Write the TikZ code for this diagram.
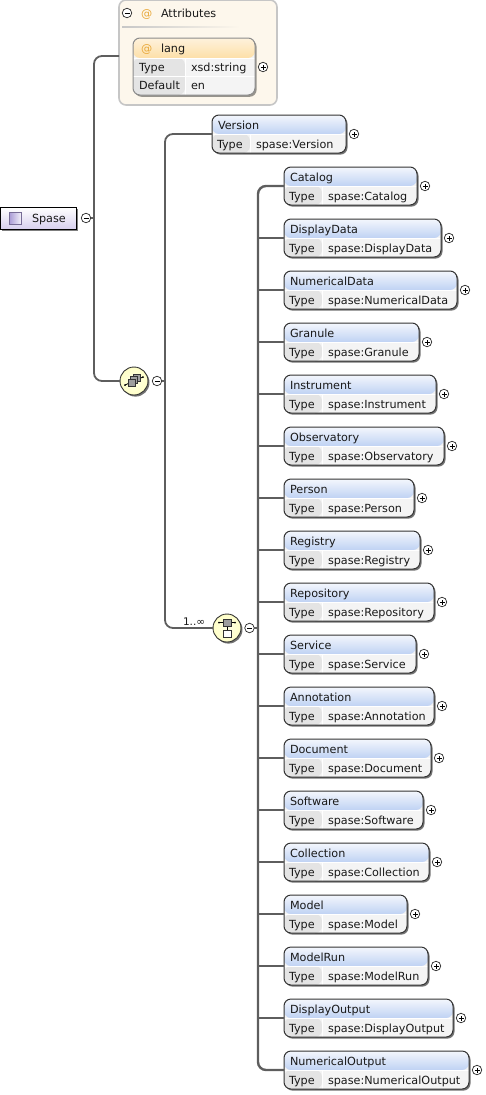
\documentclass[tikz,border=0pt]{standalone}
\usepackage{fontspec}
\setmainfont{DejaVu Sans}
\usetikzlibrary{shadows,calc}
\definecolor{conn}{HTML}{5E5E5E}
\definecolor{edge}{HTML}{333333}
\definecolor{headblue}{HTML}{BFD2F3}
\definecolor{headtop}{HTML}{F4F7FD}
\definecolor{cellA}{HTML}{E4E4E4}
\definecolor{cellB}{HTML}{F4F4F4}
\definecolor{attfill}{HTML}{FDF7EC}
\definecolor{attedge}{HTML}{C6C6C6}
\definecolor{orangeh}{HTML}{FDDFA8}
\definecolor{atcol}{HTML}{E8A83A}
\definecolor{lav}{HTML}{D6CEEE}
\definecolor{lavdark}{HTML}{A99BD6}
\tikzset{
  txt/.style={inner sep=0pt,outer sep=0pt,anchor=base west,font=\fontsize{11.2}{12}\selectfont,text=black!90},
  conline/.style={draw=conn,line width=1.8pt,rounded corners=8pt},
  spine/.style={draw=conn,line width=2.4pt,rounded corners=8pt},
  boxshadow/.style={general shadow={shadow xshift=1.5pt,shadow yshift=-1.6pt,fill=black,opacity=.55}},
  elbox/.style={draw=edge,line width=1pt,rounded corners=7pt,inner sep=0pt,outer sep=0pt,boxshadow},
  toggle/.style={circle,draw=black!85,fill=white,line width=.7pt,minimum size=9.5pt,inner sep=0pt,outer sep=0pt},
  plusn/.style={toggle,path picture={\draw[black,line width=.7pt] (-2.5pt,0pt)--(2.5pt,0pt) (0pt,-2.5pt)--(0pt,2.5pt);}},
  minusn/.style={toggle,path picture={\draw[black,line width=.7pt] (-2.5pt,0pt)--(2.5pt,0pt);}},
  compositor/.style={circle,draw=edge,line width=.9pt,minimum size=28pt,inner sep=0pt,outer sep=0pt,inner color=white!40!yellow!18,outer color=yellow!22!white,boxshadow},
  ico/.style={draw=black!80,line width=.6pt,fill=black!38},
  icow/.style={draw=black!80,line width=.6pt,fill=white},
}
% name, left, top, right, title, type, column-boundary
\newcommand{\elem}[7]{%
  \pgfmathsetmacro{\bw}{#4-#2}\pgfmathsetmacro{\hw}{(#4-#2)/2}\pgfmathsetmacro{\cx}{(#4+#2)/2}\pgfmathsetmacro{\cy}{#3+19}\pgfmathsetmacro{\colx}{#7-#2-(#4-#2)/2}\pgfmathsetmacro{\valx}{#7-#2+6}%
  \node[elbox,minimum width=\bw pt,minimum height=38pt,fill=cellB,
    path picture={
      \fill[cellA] (-\hw pt,0pt) rectangle (\colx pt,-19pt);
      \shade[top color=headtop,bottom color=headblue] (-\hw pt,19pt) rectangle (\hw pt,0pt);
      \draw[white,line width=.7pt] (\colx pt,0pt)--(\colx pt,-19pt);
      \draw[white,line width=.7pt] (-\hw pt,0pt)--(\hw pt,0pt);
    }] (#1) at (\cx,\cy) {};
  \node[txt] (#1-t) at ($(#1.north west)+(6pt,-14pt)$) {#5};
  \node[txt] (#1-l) at ($(#1.west)+(5pt,-14pt)$) {Type};
  \node[txt] (#1-v) at ($(#1.west)+(\valx pt,-14pt)$) {#6};
  \node[plusn,anchor=center] (#1-p) at ($(#1.east)+(8pt,0pt)$) {};
}
\begin{document}
\begin{tikzpicture}[x=1pt,y=-1pt]
\useasboundingbox (0,0) rectangle (485,1095);
% trunks
\coordinate (trunkA) at (94,0);
\coordinate (trunkB) at (165,0);
\coordinate (trunkC) at (258,0);
\coordinate (attrs-in) at (119,56);

% Attributes container
\node[rounded corners=7pt,draw=attedge,fill=attfill,line width=1.6pt,minimum width=158pt,minimum height=105pt,inner sep=0pt,outer sep=0pt] (attrs) at (198,52.5) {};
\shade[left color=black!22,right color=attfill] (122,26.3) rectangle (240,27.7);
\node[minusn] (attrs-m) at (127,13) {};
\node[txt,text=atcol,font=\fontsize{11.2}{12}\selectfont] (attrs-at) at (141,17) {@};
\node[txt] (attrs-t) at (161,17) {Attributes};

% lang
\node[draw=black!45,line width=1pt,rounded corners=7pt,minimum width=122pt,minimum height=57pt,inner sep=0pt,outer sep=0pt,fill=cellB,
  general shadow={shadow xshift=1.6pt,shadow yshift=-1.8pt,fill=black,opacity=.4},
  path picture={
    \fill[cellA] (-61pt,8.5pt) rectangle (-9pt,-28.5pt);
    \shade[top color=white!60!orangeh,bottom color=orangeh] (-61pt,28.5pt) rectangle (61pt,8.5pt);
    \draw[white,line width=.8pt] (-9pt,8.5pt)--(-9pt,-28.5pt);
    \draw[white,line width=.8pt] (-61pt,-9.5pt)--(61pt,-9.5pt);
    \draw[white,line width=.8pt] (-61pt,8.5pt)--(61pt,8.5pt);
  }] (lang) at (194,66.5) {};
\node[txt,text=atcol] (lang-at) at (141,52) {@};
\node[txt] (lang-t) at (161,52) {lang};
\node[txt] (lang-l1) at (139,71) {Type};
\node[txt] (lang-v1) at (191,71) {xsd:string};
\node[txt] (lang-l2) at (139,89) {Default};
\node[txt] (lang-v2) at (191,89) {en};
\node[plusn] (lang-p) at (263,67) {};

% Spase
\node[draw=black,line width=.9pt,minimum width=76pt,minimum height=22pt,inner sep=0pt,outer sep=0pt,top color=white,bottom color=lav,
  general shadow={shadow xshift=1.6pt,shadow yshift=-1.8pt,fill=black,opacity=.5}] (spase) at (38.5,218.5) {};
\node[draw=lavdark!70!black,line width=.7pt,minimum size=12.5pt,inner sep=0pt,left color=lavdark,right color=white!80!lav] (spase-i) at (15.5,218.5) {};
\node[txt] (spase-t) at (32,222) {Spase};
\node[minusn] (spase-m) at (86,218) {};

% compositors
\node[compositor] (seq) at (134,381) {};
\node[minusn] (seq-m) at (157,381) {};
\node[compositor] (cho) at (227,628) {};
\node[minusn] (cho-m) at (249.5,628) {};
\node[txt,font=\fontsize{10.5}{11}\selectfont] (cho-n) at (183,625) {1..∞};

% icons
\coordinate (s) at (seq.center);
\draw[black,line width=.8pt] ($(s)+(-9,4)$)--($(s)+(9,-4)$);
\fill[black] ($(s)+(-9,4)$) circle (1pt) ($(s)+(9,-4)$) circle (1pt);
\draw[ico] ($(s)+(-1,-7)$) rectangle ($(s)+(6,0)$);
\draw[ico] ($(s)+(-3.5,-4.5)$) rectangle ($(s)+(3.5,2.5)$);
\draw[ico] ($(s)+(-6,-2)$) rectangle ($(s)+(1,5)$);
\coordinate (c) at (cho.center);
\draw[black,line width=.8pt] ($(c)+(-8,-5.5)$)--($(c)+(8,-5.5)$);
\fill[black] ($(c)+(-8,-5.5)$) circle (1pt) ($(c)+(8,-5.5)$) circle (1pt);
\draw[black,line width=.6pt] ($(c)+(0,-1)$)--($(c)+(0,2)$);
\draw[ico] ($(c)+(-4,-9)$) rectangle ($(c)+(4,-1.5)$);
\draw[icow] ($(c)+(-4,2)$) rectangle ($(c)+(4,9)$);

% Version
\elem{version}{212}{115}{346}{Version}{spase:Version}{250}

% elements
\elem{catalog}{284}{167}{417}{Catalog}{spase:Catalog}{322}
\elem{displaydata}{284}{219}{441}{DisplayData}{spase:DisplayData}{322}
\elem{numericaldata}{284}{271}{457}{NumericalData}{spase:NumericalData}{322}
\elem{granule}{284}{323}{419}{Granule}{spase:Granule}{322}
\elem{instrument}{284}{375}{436}{Instrument}{spase:Instrument}{322}
\elem{observatory}{284}{427}{444}{Observatory}{spase:Observatory}{322}
\elem{person}{284}{479}{414}{Person}{spase:Person}{322}
\elem{registry}{284}{531}{420}{Registry}{spase:Registry}{322}
\elem{repository}{284}{583}{434}{Repository}{spase:Repository}{322}
\elem{service}{284}{635}{416}{Service}{spase:Service}{322}
\elem{annotation}{284}{687}{434}{Annotation}{spase:Annotation}{322}
\elem{document}{284}{739}{431}{Document}{spase:Document}{322}
\elem{software}{284}{791}{423}{Software}{spase:Software}{322}
\elem{collection}{284}{843}{429}{Collection}{spase:Collection}{322}
\elem{model}{284}{895}{407}{Model}{spase:Model}{322}
\elem{modelrun}{284}{947}{428}{ModelRun}{spase:ModelRun}{322}
\elem{displayoutput}{284}{999}{453}{DisplayOutput}{spase:DisplayOutput}{322}
\elem{numericaloutput}{284}{1051}{469}{NumericalOutput}{spase:NumericalOutput}{322}

% connectors
\draw[conline] (attrs-in) -- (trunkA|-attrs-in) -- (trunkA|-seq.center) -- (seq.west);
\draw[conline] (spase-m.east) -- (trunkA|-spase-m.center);
\draw[conline] (version.west) -- (trunkB|-version.west) -- (trunkB|-cho.center) -- (cho.west);
\draw[conline] (seq-m.east) -- (trunkB|-seq-m.center);
\draw[spine] (catalog.west) -- (trunkC|-catalog.west) -- (trunkC|-numericaloutput.west) -- (numericaloutput.west);
\draw[conline] (cho-m.east) -- (trunkC|-cho-m.center);
\foreach \n in {displaydata,numericaldata,granule,instrument,observatory,person,registry,repository,service,annotation,document,software,collection,model,modelrun,displayoutput}
  \draw[conline] (trunkC|-\n.west) -- (\n.west);
\end{tikzpicture}
\end{document}
